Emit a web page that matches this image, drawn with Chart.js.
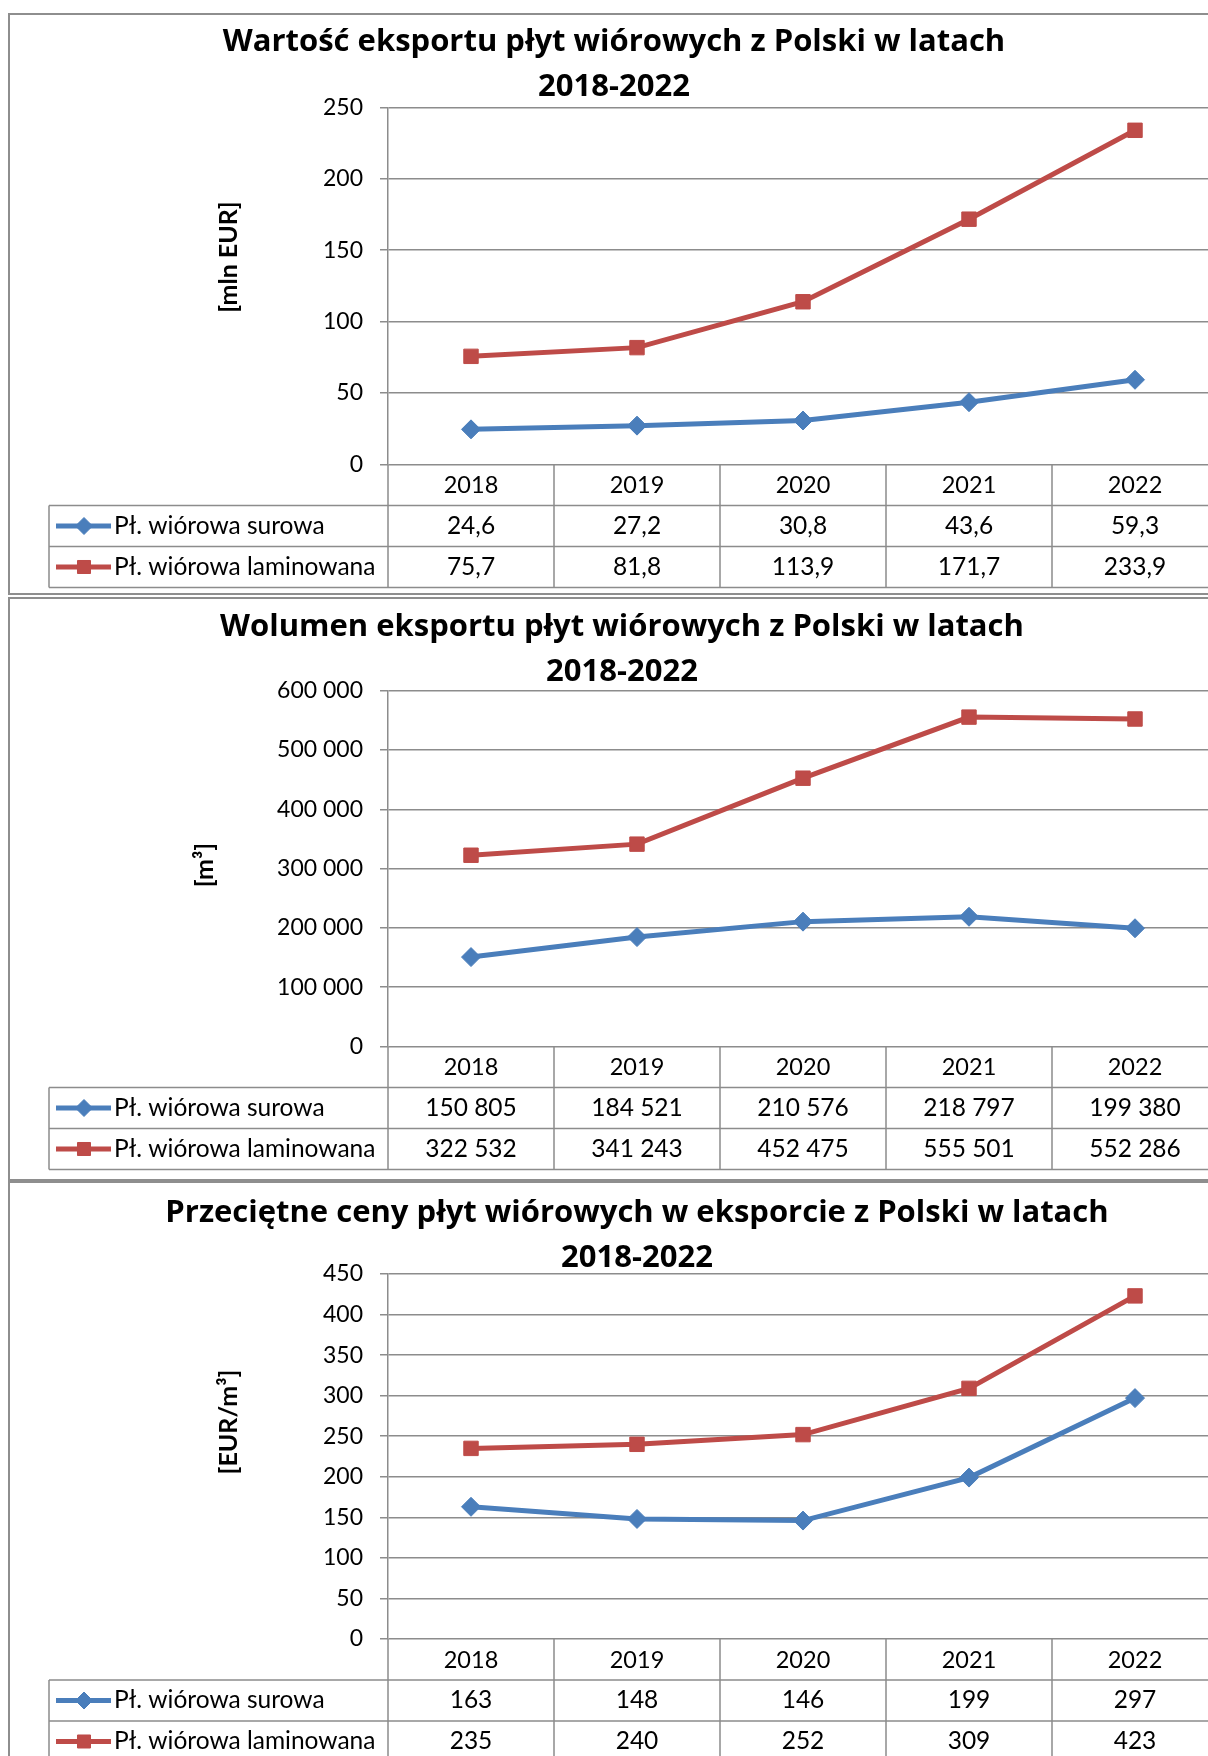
<!DOCTYPE html>
<html>
<head>
<meta charset="utf-8">
<script src="https://cdn.jsdelivr.net/npm/chart.js@4.4.0/dist/chart.umd.min.js"></script>
<style>
  body { margin: 0; background: #fff; width: 1208px; height: 1756px; overflow: hidden; position: relative; }
  .panel { position: absolute; left: 8px; width: 1240px; border: 2px solid #8e8e8e; box-sizing: border-box; }
  canvas { position: absolute; left: 0; }
</style>
</head>
<body>
<div class="panel" style="top:13px;height:582px"></div>
<div class="panel" style="top:597px;height:584px"></div>
<div class="panel" style="top:1181px;height:600px"></div>
<canvas id="value-chart" width="1218" height="582" style="top:13px"></canvas>
<canvas id="volume-chart" width="1218" height="582" style="top:597px"></canvas>
<canvas id="price-chart" width="1218" height="575" style="top:1181px"></canvas>
<script>
const years = ["2018", "2019", "2020", "2021", "2022"];
const seriesNames = ["Pł. wiórowa surowa", "Pł. wiórowa laminowana"];

// wartość eksportu [mln EUR]
const valueRaw = [24.6, 27.2, 30.8, 43.6, 59.3];
const valueLaminated = [75.7, 81.8, 113.9, 171.7, 233.9];
// wolumen eksportu [m3]
const volumeRaw = [150805, 184521, 210576, 218797, 199380];
const volumeLaminated = [322532, 341243, 452475, 555501, 552286];
// przeciętne ceny [EUR/m3]
const priceRaw = [163, 148, 146, 199, 297];
const priceLaminated = [235, 240, 252, 309, 423];

// min, max, step
const valueTicks = [0, 250, 50];
const volumeTicks = [0, 600000, 100000];
const priceTicks = [0, 450, 50];

const blue = "#4a7ebb";
const red = "#be4b48";
const gray = "#8c8c8c";
const fontFamily = "Lato, 'Open Sans', sans-serif";
const titleFamily = "'Open Sans', Lato, sans-serif";

const decimalComma = v => v.toFixed(1).replace(".", ",");
const spaced = v => String(v).replace(/\B(?=(\d{3})+(?!\d))/g, " ");
const plain = v => String(v);

// draws the data table under the plot (legend + values) from the x scale
const tablePlugin = {
  id: "dataTable",
  afterDraw(chart, args, opts) {
    const {ctx, chartArea} = chart;
    const x = chart.scales.x;
    const rowH = opts.rowHeight;
    const top = chartArea.bottom;
    const colW = x.getPixelForValue(1) - x.getPixelForValue(0);
    const legendLeft = 49;

    ctx.save();
    ctx.strokeStyle = gray;
    ctx.lineWidth = 1.5;
    ctx.beginPath();
    for (let r = 1; r <= 3; r++) {
      ctx.moveTo(legendLeft, top + r * rowH);
      ctx.lineTo(chart.width, top + r * rowH);
    }
    for (let i = 0; i <= chart.data.labels.length; i++) {
      const cx = chartArea.left + i * colW;
      ctx.moveTo(cx, top);
      ctx.lineTo(cx, top + 3 * rowH);
    }
    ctx.moveTo(legendLeft, top + rowH);
    ctx.lineTo(legendLeft, top + 3 * rowH);
    ctx.stroke();

    ctx.font = "24.5px " + fontFamily;
    ctx.textBaseline = "middle";
    chart.data.datasets.forEach((ds, k) => {
      const y = top + (k + 1.5) * rowH;
      ctx.strokeStyle = ds.borderColor;
      ctx.lineWidth = ds.borderWidth;
      ctx.beginPath();
      ctx.moveTo(56, y);
      ctx.lineTo(111, y);
      ctx.stroke();
      ctx.fillStyle = ds.pointBackgroundColor;
      ctx.lineWidth = 1;
      Chart.helpers.drawPoint(ctx, {pointStyle: ds.pointStyle, radius: ds.pointRadius - 1, borderWidth: 1, rotation: 0}, 84, y);

      ctx.fillStyle = "#000";
      ctx.textAlign = "left";
      ctx.fillText(ds.label, 114, y);
      ctx.textAlign = "center";
      ds.data.forEach((v, i) => {
        ctx.fillText(opts.format(v), x.getPixelForValue(i), y);
      });
    });

    // axis title
    ctx.translate(opts.yTitle.x, opts.yTitle.y);
    ctx.rotate(-Math.PI / 2);
    ctx.font = "bold 25px " + fontFamily;
    ctx.textAlign = "center";
    ctx.fillStyle = "#000";
    ctx.fillText(opts.yTitle.text, 0, 0);
    ctx.restore();
  }
};

function makeChart(canvasId, title, yTitle, raw, laminated, ticks, format, geo) {
  return new Chart(document.getElementById(canvasId), {
    type: "line",
    data: {
      labels: years,
      datasets: [
        {
          label: seriesNames[0],
          data: raw,
          borderColor: blue,
          backgroundColor: blue,
          pointBackgroundColor: blue,
          borderWidth: 5,
          pointStyle: "rectRot",
          pointRadius: 9.5,
          pointBorderWidth: 1,
        },
        {
          label: seriesNames[1],
          data: laminated,
          borderColor: red,
          backgroundColor: red,
          pointBackgroundColor: red,
          borderWidth: 5,
          pointStyle: "rect",
          pointRadius: 10.2,
          pointBorderWidth: 1,
        },
      ],
    },
    options: {
      responsive: false,
      animation: false,
      layout: { autoPadding: false, padding: { left: geo.padLeft, right: 0, top: 0, bottom: 0 } },
      plugins: {
        legend: { display: false },
        tooltip: { enabled: false },
        title: {
          display: true,
          text: title,
          color: "#000",
          font: { family: titleFamily, size: 31, weight: "bold", lineHeight: 45 / 31 },
          padding: { top: geo.titleTop, bottom: geo.titleBottom },
        },
        dataTable: { rowHeight: 41, format: format, yTitle: yTitle },
      },
      scales: {
        x: {
          offset: true,
          grid: { display: false },
          border: { display: false },
          ticks: { color: "#000", font: { family: fontFamily, size: 23.5 }, padding: -1, maxRotation: 0 },
          afterFit: s => { s.height = geo.xHeight; },
        },
        y: {
          min: ticks[0],
          max: ticks[1],
          ticks: {
            stepSize: ticks[2],
            color: "#000",
            font: { family: fontFamily, size: 23 },
            padding: 17,
            callback: v => format === spaced ? spaced(v) : String(v),
          },
          grid: { color: gray, lineWidth: 1.5, tickLength: 8 },
          border: { color: gray, width: 1.5 },
          afterFit: s => { s.width = 388 - geo.padLeft; },
        },
      },
    },
    plugins: [tablePlugin],
  });
}

makeChart("value-chart",
  ["Wartość eksportu płyt wiórowych z Polski w latach", "2018-2022"],
  { text: "[mln EUR]", x: 229, y: 244 },
  valueRaw, valueLaminated, valueTicks, decimalComma,
  { padLeft: 10, titleTop: 6.5, titleBottom: -2.2, xHeight: 130.5 });

makeChart("volume-chart",
  ["Wolumen eksportu płyt wiórowych z Polski w latach", "2018-2022"],
  { text: "[m³]", x: 205, y: 268 },
  volumeRaw, volumeLaminated, volumeTicks, spaced,
  { padLeft: 26, titleTop: 8, titleBottom: -4.3, xHeight: 132.5 });

makeChart("price-chart",
  ["Przeciętne ceny płyt wiórowych w eksporcie z Polski w latach", "2018-2022"],
  { text: "[EUR/m³]", x: 229, y: 241 },
  priceRaw, priceLaminated, priceTicks, plain,
  { padLeft: 56, titleTop: 10, titleBottom: -7, xHeight: 117 });
</script>
</body>
</html>
